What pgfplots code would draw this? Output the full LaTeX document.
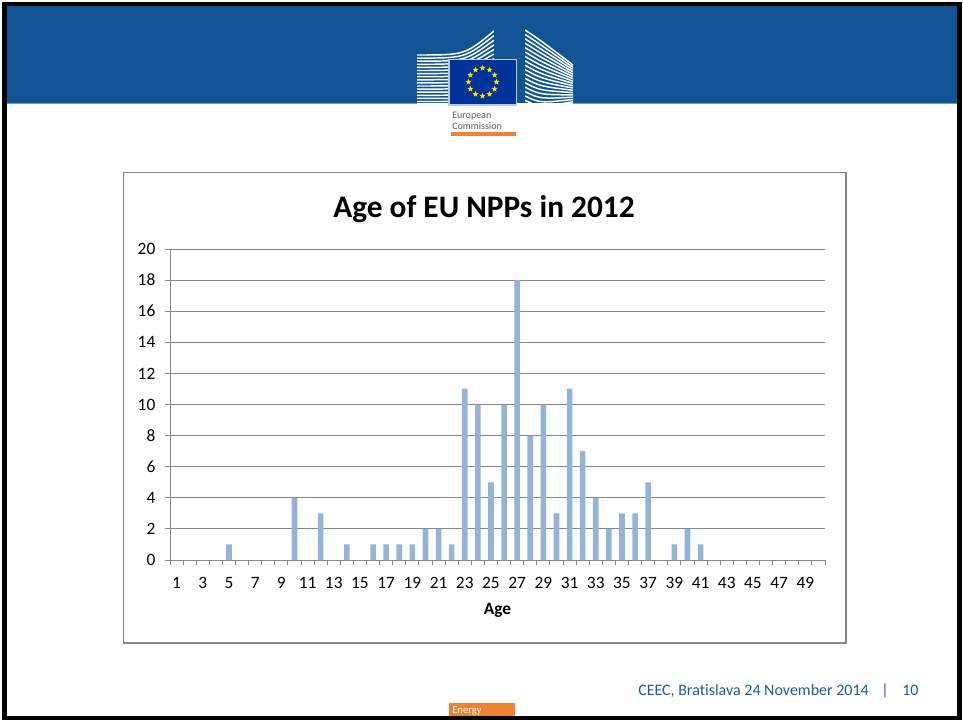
\documentclass[border=0pt]{standalone}
\usepackage{pgfplots}
\pgfplotsset{compat=1.18}
\usepackage{pgfplotstable}
\usepackage{fontspec}
\setmainfont{Carlito}[Ligatures=NoCommon]
\usetikzlibrary{shapes.geometric}

\definecolor{ecblue}{RGB}{16,84,148}
\definecolor{barblue}{RGB}{149,179,215}
\definecolor{gridgray}{RGB}{134,134,134}
\definecolor{footblue}{RGB}{31,91,153}
\definecolor{ecorange}{RGB}{238,131,50}
\definecolor{flagblue}{RGB}{0,51,153}
\definecolor{staryellow}{RGB}{255,221,0}

% number of EU nuclear power plants by age (years)
\pgfplotstableread{
age n
1 0
2 0
3 0
4 0
5 1
6 0
7 0
8 0
9 0
10 4
11 0
12 3
13 0
14 1
15 0
16 1
17 1
18 1
19 1
20 2
21 2
22 1
23 11
24 10
25 5
26 10
27 18
28 8
29 10
30 3
31 11
32 7
33 4
34 2
35 3
36 3
37 5
38 0
39 1
40 2
41 1
42 0
43 0
44 0
45 0
46 0
47 0
48 0
49 0
50 0
}\agedata

\begin{document}
\begin{tikzpicture}[x=0.75pt,y=-0.75pt]
\useasboundingbox (0,0) rectangle (963,723);
\fill[white] (0,0) rectangle (963,723);

% header band
\fill[ecblue] (5,5) rectangle (958,104);
\draw[ecblue!60!white,line width=0.75pt] (5,104) -- (958,104);

% logo: buildings
\begin{scope}
  \clip (417,20) rectangle (494,103);
  \foreach \i in {0,...,15} {
    \draw[white,line width=1.1pt]
      (417,{55+\i*3.1}) .. controls (465,{55+\i*3.1}) .. (494,{31+\i*4.6});
  }
\end{scope}
\begin{scope}
  \clip (525,20) rectangle (573,103);
  \foreach \i in {0,...,16} {
    \draw[white,line width=1.1pt]
      (525,{30+\i*4.4}) .. controls (540,{40+\i*4.2}) .. (573,{65+\i*2.3});
  }
\end{scope}
\fill[white] (417,103) rectangle (573,108);
% flag
\fill[white!70!ecblue] (448,59) rectangle (517,106);
\fill[flagblue] (449.5,60.5) rectangle (515.5,104.5);
\foreach \a in {0,30,...,330} {
  \node[star,star points=5,star point ratio=2.4,fill=staryellow,
        inner sep=0pt,minimum size=4.8pt]
    at ({482.5+14*cos(\a)},{82+14*sin(\a)}) {};
}
\node[anchor=base west,text=black!65,font=\fontsize{7.5}{8}\selectfont,inner sep=0pt]
  at (452,119) {European};
\node[anchor=base west,text=black!65,font=\fontsize{7.5}{8}\selectfont,inner sep=0pt]
  at (452,130) {Commission};
\fill[ecorange] (451,132) rectangle (516,136);

% chart frame
\draw[gridgray,line width=1.1pt] (123.5,172.5) rectangle (846,643);
\node[font=\bfseries\fontsize{23.5}{28}\selectfont] at (484,209) {Age of EU NPPs in 2012};

\begin{axis}[
  at={(127.5pt,-420pt)}, anchor=south west,
  scale only axis, width=491.25pt, height=233.25pt,
  xmin=0.5, xmax=50.5, ymin=0, ymax=20,
  ybar, bar width=4.2pt,
  axis x line*=bottom, axis y line*=left,
  axis line style={gridgray,line width=0.75pt,-},
  ytick={0,2,...,20}, ymajorgrids,
  grid style={gridgray,line width=0.75pt},
  xtick={1,3,...,49}, minor xtick={0.5,1.5,...,50.5},
  major x tick style={draw=none},
  tick align=outside, major tick length=4pt, minor tick length=4pt,
  tick style={gridgray,line width=0.75pt},
  ticklabel style={font=\fontsize{13}{15}\selectfont},
  xticklabel style={yshift=-5.6pt},
  yticklabel style={xshift=-3.5pt},
  /pgf/number format/assume math mode=true,
  xlabel={Age},
  xlabel style={font=\bfseries\fontsize{13}{15}\selectfont,
    at={(axis description cs:0.5,0)}, anchor=center, yshift=-37.5pt},
]
\addplot[fill=barblue,draw=none] table[x=age,y=n] {\agedata};
\end{axis}

% footer
\node[anchor=base west,text=footblue,font=\fontsize{12}{14}\selectfont,inner sep=0pt]
  at (638,695) {CEEC, Bratislava 24 November 2014};
\node[anchor=base west,text=footblue,font=\fontsize{12}{14}\selectfont,inner sep=0pt]
  at (881,695) {|};
\node[anchor=base west,text=footblue,font=\fontsize{12}{14}\selectfont,inner sep=0pt]
  at (902,695) {10};
\fill[ecorange] (449,703) rectangle (515,720);
\node[anchor=base west,text=white,font=\fontsize{8}{9}\selectfont,inner sep=0pt]
  at (452,713) {Energy};

% outer frame
\draw[black,line width=3.4pt] (4.5,4) rectangle (959.5,718);
\end{tikzpicture}
\end{document}
